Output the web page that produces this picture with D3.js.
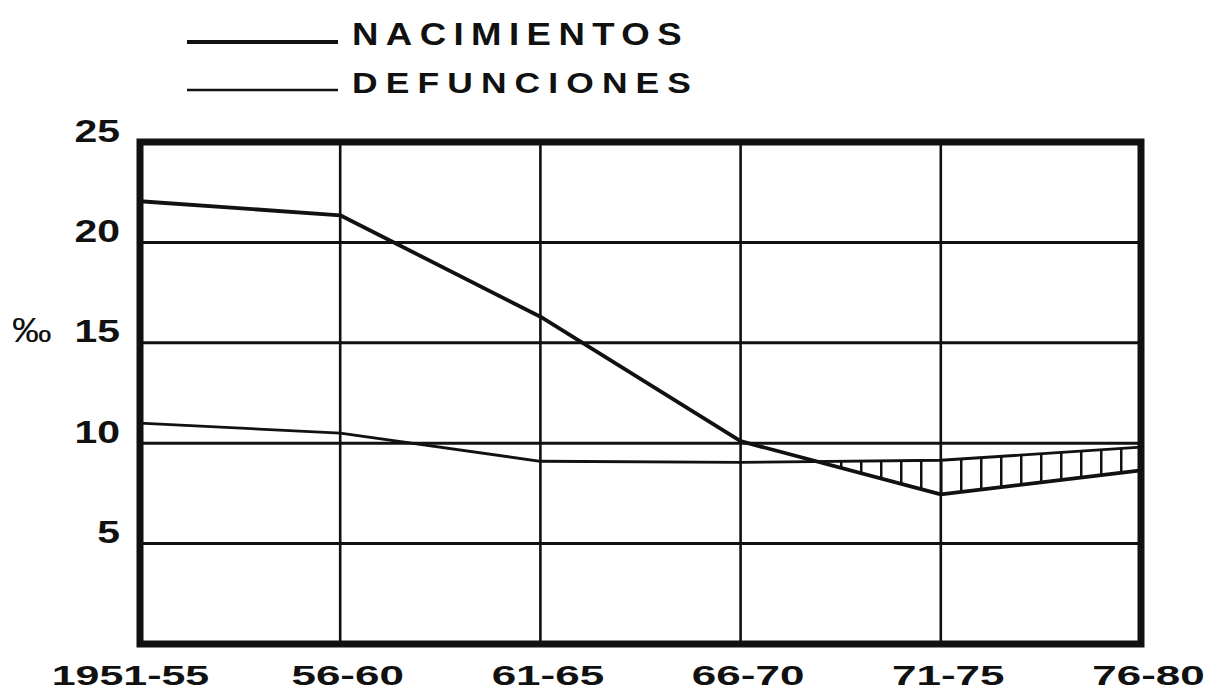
<!DOCTYPE html>
<html><head><meta charset="utf-8">
<script src="https://cdn.jsdelivr.net/npm/d3@7"></script>
<style>body{margin:0;background:#fff}</style>
</head><body><svg id="c" width="1217" height="695"></svg>
<script>
const periods = ["1951-55","56-60","61-65","66-70","71-75","76-80"];
const nacimientos = [22.05,21.35,16.3,10.1,7.45,8.65];
const defunciones = [11.0,10.5,9.1,9.05,9.15,9.8];
const yTicks = [5,10,15,20,25];
const seriesNames = ["NACIMIENTOS","DEFUNCIONES"];
const unitLabel = "‰";

const W=1217,H=695;
const L=140,R=1141,T=142,B=644;
const ink="#111";
const font="'Liberation Sans', Arial, Helvetica, sans-serif";
const svg=d3.select("#c");
svg.append("rect").attr("width",W).attr("height",H).attr("fill","#fff");
const x=d3.scalePoint().domain(periods).range([L,R]);
const y=d3.scaleLinear().domain([0,25]).range([B,T]);

// hatch between curves where deaths exceed births
const defs=svg.append("defs");
defs.append("pattern").attr("id","hatch").attr("patternUnits","userSpaceOnUse")
  .attr("x",0).attr("y",0).attr("width",20).attr("height",20)
  .append("rect").attr("x",0).attr("y",0).attr("width",2.5).attr("height",20).attr("fill",ink);
const belowArea=d3.area().x((d,i)=>x(periods[i])).y0(y(0)).y1(d=>y(d));
const aboveArea=d3.area().x((d,i)=>x(periods[i])).y0(y(25)).y1(d=>y(d));
defs.append("clipPath").attr("id","cpD").append("path").attr("d",belowArea(defunciones));
defs.append("clipPath").attr("id","cpB").append("path").attr("d",aboveArea(nacimientos));
svg.append("g").attr("clip-path","url(#cpD)").append("g").attr("clip-path","url(#cpB)")
  .append("rect").attr("x",L).attr("y",T).attr("width",R-L).attr("height",B-T).attr("fill","url(#hatch)");

// grid
svg.append("g").selectAll("line").data(yTicks.filter(v=>v<25)).join("line")
  .attr("x1",L).attr("x2",R).attr("y1",d=>y(d)).attr("y2",d=>y(d))
  .attr("stroke",ink).attr("stroke-width",3);
svg.append("g").selectAll("line").data(periods.slice(1,-1)).join("line")
  .attr("x1",d=>x(d)).attr("x2",d=>x(d)).attr("y1",T).attr("y2",B)
  .attr("stroke",ink).attr("stroke-width",2.6);

// series
const line=d3.line().x((d,i)=>x(periods[i])).y(d=>y(d));
svg.append("path").attr("d",line(defunciones)).attr("fill","none").attr("stroke",ink).attr("stroke-width",2.8).attr("stroke-linejoin","round");
svg.append("path").attr("d",line(nacimientos)).attr("fill","none").attr("stroke",ink).attr("stroke-width",3.8).attr("stroke-linejoin","round");

// frame
svg.append("rect").attr("x",L).attr("y",T).attr("width",R-L).attr("height",B-T)
  .attr("fill","none").attr("stroke",ink).attr("stroke-width",7);

// y axis
const gy=svg.append("g").attr("transform",`translate(${L},0)`)
  .call(d3.axisLeft(y).tickValues(yTicks).tickSize(0).tickPadding(0));
gy.select(".domain").remove();
gy.attr("font-family",null).attr("font-size",null);
gy.selectAll("text").attr("x",0).attr("y",0).attr("dy",null).attr("text-anchor","end")
  .attr("transform","translate(-20,-1) scale(1.32,1)")
  .attr("font-family",font).attr("font-weight","bold").attr("font-size",31).attr("fill",ink);

svg.append("text").attr("transform",`translate(12,${y(15)-1}) scale(1.1,1)`)
  .attr("font-family",font).attr("font-size",36).attr("fill",ink).text(unitLabel);

// x axis
const gx=svg.append("g").attr("transform",`translate(0,${B})`)
  .call(d3.axisBottom(x).tickSize(0).tickPadding(0));
gx.select(".domain").remove();
gx.attr("font-family",null).attr("font-size",null);
gx.selectAll("text").attr("y",41).attr("dy",null).attr("x",(d,i)=>i===0?-10:7)
  .attr("text-anchor","middle")
  .attr("textLength",d=>d.length*22.5).attr("lengthAdjust","spacingAndGlyphs")
  .attr("font-family",font).attr("font-weight","bold").attr("font-size",27).attr("fill",ink);

// legend
const lg=svg.append("g");
const legendWidths=[3.8,2.6];
seriesNames.forEach((n,i)=>{
  const by = i===0 ? 45 : 93;
  lg.append("line").attr("x1",187).attr("x2",338).attr("y1",by-3).attr("y2",by-3)
    .attr("stroke",ink).attr("stroke-width",legendWidths[i]);
  lg.append("text").attr("transform",`translate(352,${by}) scale(1.18,1)`)
    .attr("font-family",font).attr("font-weight","bold")
    .attr("font-size",i===0?31:30).attr("letter-spacing",i===0?6.3:6.9).attr("fill",ink).text(n);
});
</script></body></html>
